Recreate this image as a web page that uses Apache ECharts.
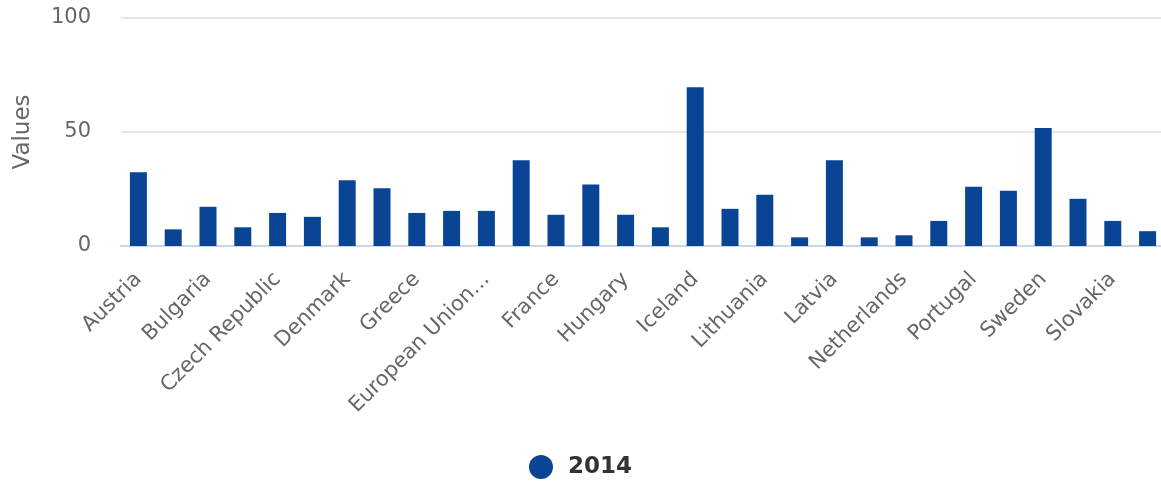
<!DOCTYPE html>
<html>
<head>
<meta charset="utf-8">
<script src="https://cdn.jsdelivr.net/npm/echarts@6/dist/echarts.min.js"></script>
<style>
html,body{margin:0;padding:0;background:#fff;}
#chart{width:1161px;height:488px;}
</style>
</head>
<body>
<div id="chart"></div>
<script>
const categories = ["Austria","Belgium","Bulgaria","Cyprus","Czech Republic","Germany","Denmark","Estonia","Greece","Spain","European Union (28 countries)","Finland","France","Croatia","Hungary","Ireland","Iceland","Italy","Lithuania","Luxembourg","Latvia","Malta","Netherlands","Norway","Portugal","Romania","Sweden","Slovenia","Slovakia","United Kingdom"];
const values2014 = [32.3,7.3,17.2,8.2,14.5,12.8,28.8,25.3,14.5,15.4,15.4,37.6,13.7,27.0,13.7,8.2,69.6,16.3,22.5,3.8,37.6,3.8,4.7,11.0,26.0,24.2,51.8,20.7,11.0,6.5];
const seriesName = "2014";
const yTicks = [0, 50, 100];

const FONT = "DejaVu Sans";
const chart = echarts.init(document.getElementById('chart'));
chart.setOption({
  animation: false,
  textStyle: {fontFamily: FONT},
  grid: {left: 121, top: 18, width: 1044, bottom: 242, containLabel: false, outerBoundsMode: 'none'},
  legend: {
    bottom: 4, left: 'center',
    icon: 'circle', itemWidth: 24, itemHeight: 24,
    data: [seriesName],
    textStyle: {fontFamily: FONT, fontSize: 23, fontWeight: 'bold', color: '#333', padding: [0,0,0,10]}
  },
  xAxis: {
    type: 'category',
    data: categories,
    axisLine: {lineStyle: {color: '#ccd6eb', width: 2}},
    axisTick: {alignWithLabel: true, interval: 1, length: 18, lineStyle: {color: '#ccd6eb', width: 2}},
    axisLabel: {
      interval: 1, rotate: 45, margin: 30,
      fontFamily: FONT, fontSize: 21, color: '#666',
      formatter: v => v.length > 16 ? v.slice(0, 14) + '…' : v
    }
  },
  yAxis: {
    type: 'value', min: yTicks[0], max: yTicks[yTicks.length - 1], interval: 50,
    name: 'Values', nameLocation: 'middle', nameGap: 86, nameRotate: 90,
    nameTextStyle: {fontFamily: FONT, fontSize: 23, color: '#666'},
    axisLine: {show: false}, axisTick: {show: false},
    axisLabel: {margin: 30, fontFamily: FONT, fontSize: 21, color: '#666'},
    splitLine: {lineStyle: {color: '#e6e6e6', width: 2}}
  },
  series: [{
    name: seriesName, type: 'bar', data: values2014, barWidth: 17,
    itemStyle: {color: '#0a4595'}
  }]
});
</script>
</body>
</html>
